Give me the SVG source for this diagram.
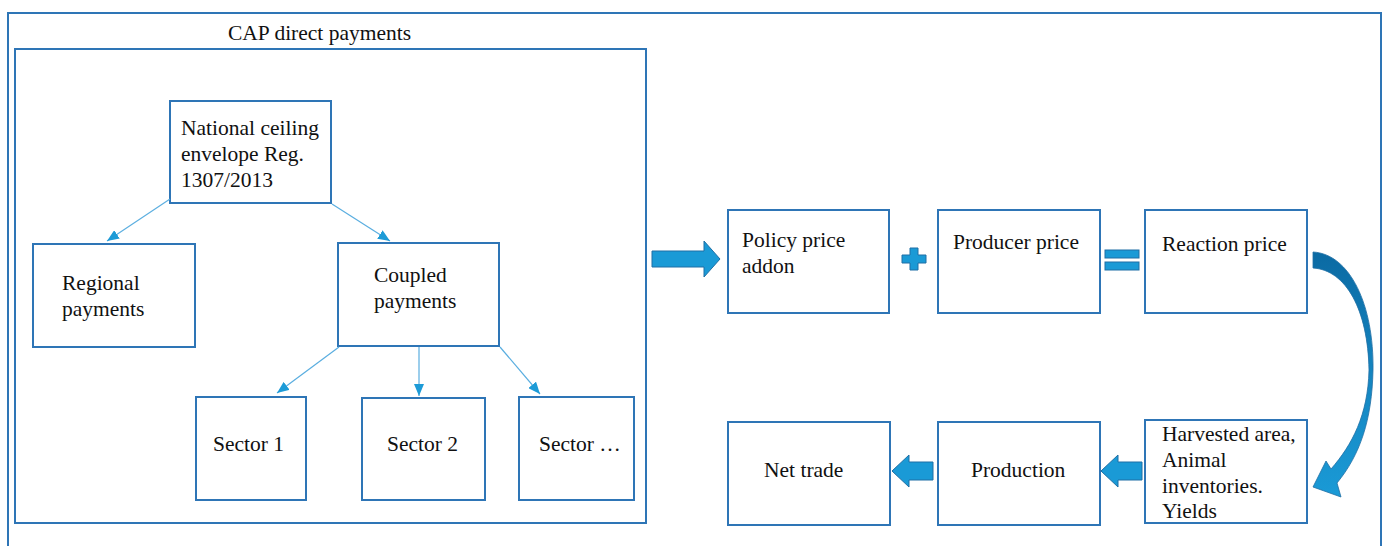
<svg xmlns="http://www.w3.org/2000/svg" width="1385" height="546" viewBox="0 0 1385 546">
<defs>
<style>
.box{fill:#fff;stroke:#2e75b6;stroke-width:2}
.frame{fill:none;stroke:#2e75b6;stroke-width:2}
.t{font-family:"Liberation Serif","Times New Roman",serif;font-size:21.5px;fill:#111}
.con{stroke:#5aaee0;stroke-width:1.2;fill:none;marker-end:url(#ah)}
.blk{fill:#1a9ad6;stroke:#1f6fa5;stroke-width:1}
</style>
<marker id="ah" viewBox="0 0 12 10" refX="12" refY="5" markerWidth="12" markerHeight="10" markerUnits="userSpaceOnUse" orient="auto">
<path d="M0,0 L12,5 L0,10 Z" fill="#1d9bd7"/>
</marker>
<linearGradient id="cg" x1="0" y1="0" x2="0" y2="1">
<stop offset="0" stop-color="#0b6aa3"/>
<stop offset="0.5" stop-color="#1585c0"/>
<stop offset="1" stop-color="#1a9ad6"/>
</linearGradient>
</defs>
<rect x="0" y="0" width="1385" height="546" fill="#fff"/>
<rect class="frame" x="8" y="13" width="1373" height="560"/>
<text class="t" x="228" y="40">CAP direct payments</text>
<rect class="frame" x="15" y="49" width="631" height="474"/>

<g id="national"><rect class="box" x="170" y="101" width="161" height="102"/>
<text class="t" x="181" y="135">National ceiling</text><text class="t" x="181" y="161">envelope Reg.</text><text class="t" x="181" y="187">1307/2013</text></g>
<g id="regional"><rect class="box" x="33" y="244" width="162" height="103"/>
<text class="t" x="62" y="290">Regional</text><text class="t" x="62" y="316">payments</text></g>
<g id="coupled"><rect class="box" x="338" y="243" width="161" height="103"/>
<text class="t" x="374" y="282">Coupled</text><text class="t" x="374" y="308">payments</text></g>
<g id="sector1"><rect class="box" x="196" y="397" width="110" height="103"/><text class="t" x="213" y="451">Sector 1</text></g>
<g id="sector2"><rect class="box" x="362" y="398" width="123" height="102"/><text class="t" x="387" y="451">Sector 2</text></g>
<g id="sector3"><rect class="box" x="519" y="397" width="115" height="103"/><text class="t" x="539" y="451">Sector …</text></g>

<g id="policy"><rect class="box" x="728" y="210" width="161" height="103"/>
<text class="t" x="742" y="247">Policy price</text><text class="t" x="742" y="273">addon</text></g>
<g id="producer"><rect class="box" x="938" y="210" width="162" height="103"/><text class="t" x="953" y="249">Producer price</text></g>
<g id="reaction"><rect class="box" x="1145" y="210" width="162" height="103"/><text class="t" x="1162" y="251">Reaction price</text></g>
<g id="harvested"><rect class="box" x="1145" y="420" width="162" height="103"/>
<text class="t" x="1162" y="441">Harvested area,</text><text class="t" x="1162" y="467">Animal</text><text class="t" x="1162" y="493">inventories.</text><text class="t" x="1162" y="518">Yields</text></g>
<g id="production"><rect class="box" x="938" y="422" width="162" height="103"/><text class="t" x="971" y="477">Production</text></g>
<g id="nettrade"><rect class="box" x="728" y="422" width="162" height="103"/><text class="t" x="764" y="477">Net trade</text></g>

<g id="connectors">
<line class="con" x1="170" y1="199" x2="107" y2="241"/>
<line class="con" x1="332" y1="204" x2="390" y2="241"/>
<line class="con" x1="339" y1="347" x2="277" y2="393"/>
<line class="con" x1="419" y1="347" x2="419" y2="396"/>
<line class="con" x1="500" y1="347" x2="540" y2="394"/>
<path class="blk" d="M652,251 L704,251 L704,241 L720,259 L704,277 L704,267 L652,267 Z"/>
<path class="blk" d="M910,248 L918,248 L918,255 L926,255 L926,263 L918,263 L918,270 L910,270 L910,263 L902,263 L902,255 L910,255 Z"/>
<rect class="blk" x="1105" y="250" width="34" height="8"/>
<rect class="blk" x="1105" y="262" width="34" height="8"/>
<path class="blk" d="M933,462 L909,462 L909,455 L892,471 L909,487 L909,480 L933,480 Z"/>
<path class="blk" d="M1142,462 L1118,462 L1118,455 L1101,471 L1118,487 L1118,480 L1142,480 Z"/>
<path fill="url(#cg)" stroke="#1f6fa5" stroke-width="0.8" d="M1313,252 C1350,254 1374,305 1373,370 C1372,420 1360,455 1337,483 L1341,497 L1313,487 L1326,461 L1331,469 C1352,445 1368,415 1369,370 C1368,310 1346,270 1313,268 Z"/>
</g>
</svg>
